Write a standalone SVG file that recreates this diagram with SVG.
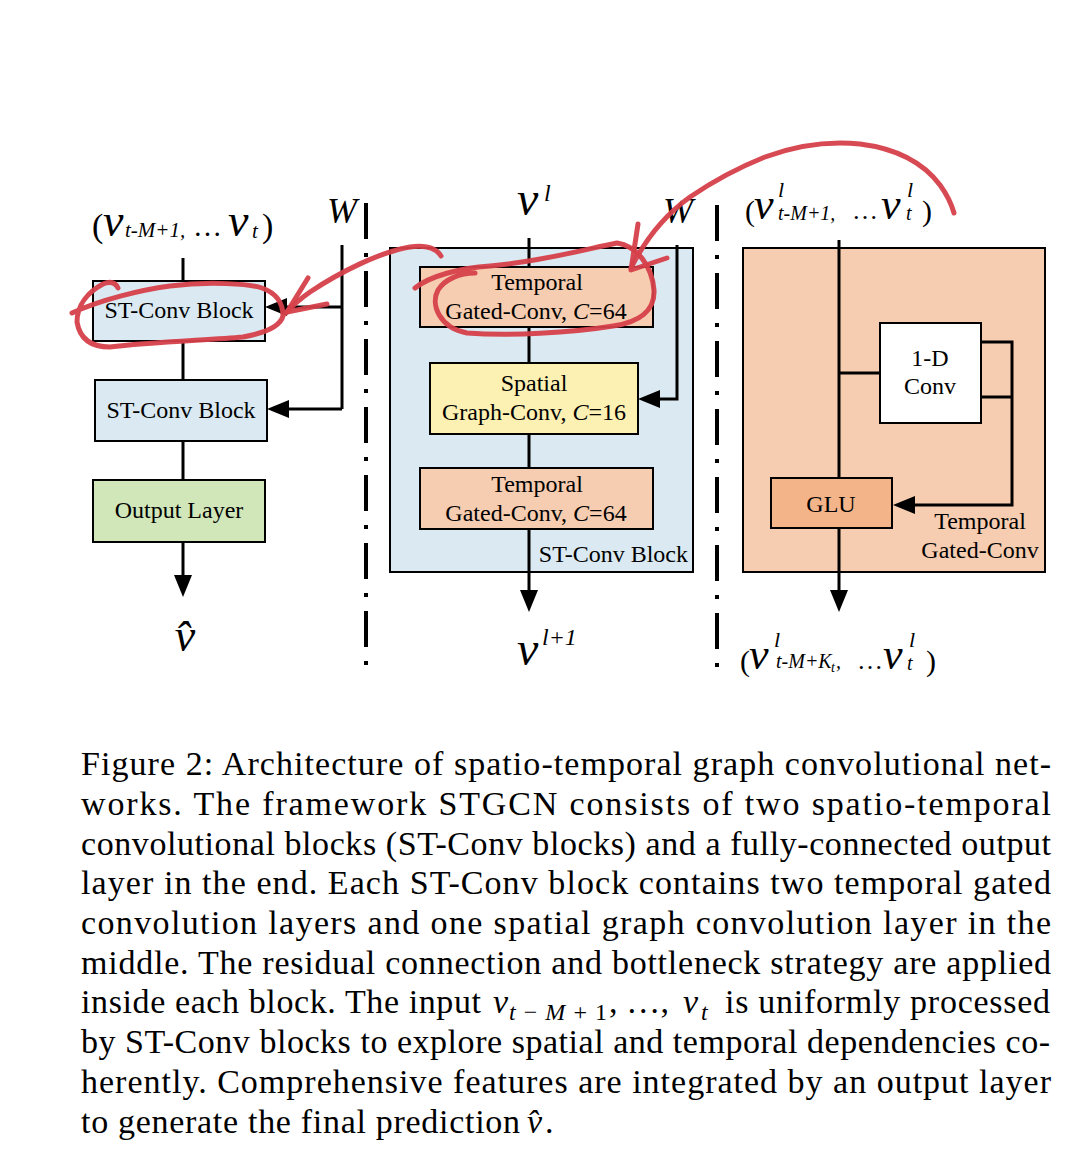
<svg xmlns="http://www.w3.org/2000/svg" width="1077" height="1161" viewBox="0 0 1077 1161">
<style>
.box{stroke:#000;stroke-width:2}
.lbl{font-family:"Liberation Serif","Times New Roman",serif;font-size:24px;fill:#000;text-anchor:middle}
.conn{stroke:#000;stroke-width:3;fill:none}
.sep{stroke:#000;stroke-width:4;stroke-dasharray:36 14 4 14;fill:none}
.m{font-family:"Liberation Serif","Times New Roman",serif;font-style:italic;fill:#000}
.u{font-family:"Liberation Serif","Times New Roman",serif;fill:#000}
.cap{font-family:"Liberation Serif","Times New Roman",serif;font-size:34px;fill:#000}
.red{stroke:#d6404a;stroke-width:5;fill:none;stroke-linecap:round;stroke-linejoin:round;opacity:0.95}
.blue{fill:#dbeaf2}.peach{fill:#f6cdb0}.yellow{fill:#fcf0b2}.green{fill:#d1e7b9}.glu{fill:#f3b48a}
</style>
<defs>
<marker id="ah" markerUnits="userSpaceOnUse" markerWidth="22" markerHeight="18" refX="12" refY="9" orient="auto" overflow="visible">
<path d="M0,0 L22,9 L0,18 z" fill="#000"/>
</marker>
</defs>
<rect width="1077" height="1161" fill="#fff"/>

<g id="separators">
<line class="sep" x1="366" y1="203" x2="366" y2="668"/>
<line class="sep" x1="717" y1="205" x2="717" y2="668"/>
</g>

<g id="st-conv-block-detail">
<rect class="box blue" x="390" y="248" width="303" height="324"/>
<text class="lbl" x="688" y="562" style="text-anchor:end">ST-Conv Block</text>
</g>
<g id="temporal-gated-conv-detail">
<rect class="box peach" x="743" y="248" width="302" height="324"/>
<text class="lbl" x="980" y="529">Temporal</text>
<text class="lbl" x="980" y="558">Gated-Conv</text>
</g>

<g id="connectors">
<path class="conn" d="M183,258 V281"/>
<path class="conn" d="M183,341 V380"/>
<path class="conn" d="M183,441 V480"/>
<path class="conn" d="M183,542 V587" marker-end="url(#ah)"/>
<path class="conn" d="M342,245 V409"/>
<path class="conn" d="M342,307 H275" marker-end="url(#ah)"/>
<path class="conn" d="M342,409 H277" marker-end="url(#ah)"/>
<path class="conn" d="M529,238 V267"/>
<path class="conn" d="M529,327 V363"/>
<path class="conn" d="M529,434 V468"/>
<path class="conn" d="M529,529 V602" marker-end="url(#ah)"/>
<path class="conn" d="M677,245 V399 H648" marker-end="url(#ah)"/>
<path class="conn" d="M839,240 V478"/>
<path class="conn" d="M839,373 H880"/>
<path class="conn" d="M981,342 H1012 V505 H903" marker-end="url(#ah)"/>
<path class="conn" d="M981,397 H1012"/>
<path class="conn" d="M839,528 V602" marker-end="url(#ah)"/>
</g>

<g id="st-conv-block-1">
<rect class="box blue" x="93" y="281" width="172" height="60"/>
<text class="lbl" x="179" y="318">ST-Conv Block</text>
</g>
<g id="st-conv-block-2">
<rect class="box blue" x="95" y="380" width="172" height="61"/>
<text class="lbl" x="181" y="418">ST-Conv Block</text>
</g>
<g id="output-layer">
<rect class="box green" x="93" y="480" width="172" height="62"/>
<text class="lbl" x="179" y="518">Output Layer</text>
</g>

<g id="temporal-1">
<rect class="box peach" x="420" y="267" width="233" height="60"/>
<text class="lbl" x="537" y="290">Temporal</text>
<text class="lbl" x="536" y="319">Gated-Conv, <tspan font-style="italic">C</tspan>=64</text>
</g>
<g id="spatial">
<rect class="box yellow" x="430" y="363" width="208" height="71"/>
<text class="lbl" x="534" y="391">Spatial</text>
<text class="lbl" x="534" y="420">Graph-Conv, <tspan font-style="italic">C</tspan>=16</text>
</g>
<g id="temporal-2">
<rect class="box peach" x="420" y="468" width="233" height="61"/>
<text class="lbl" x="537" y="492">Temporal</text>
<text class="lbl" x="536" y="521">Gated-Conv, <tspan font-style="italic">C</tspan>=64</text>
</g>

<g id="conv-1d">
<rect class="box" fill="#fff" x="880" y="323" width="101" height="100"/>
<text class="lbl" x="930" y="366">1-D</text>
<text class="lbl" x="930" y="394">Conv</text>
</g>
<g id="glu">
<rect class="box glu" x="771" y="478" width="121" height="50"/>
<text class="lbl" x="831" y="512">GLU</text>
</g>

<g id="label-input">
<text class="u" x="92" y="237" font-size="34">(</text>
<text class="m" x="103" y="236" font-size="46">v</text>
<text class="m" x="125" y="237" font-size="21">t-M+1,</text>
<text class="u" x="193" y="236" font-size="29">…</text>
<text class="m" x="228" y="236" font-size="46">v</text>
<text class="m" x="252" y="238" font-size="21">t</text>
<text class="u" x="262" y="237" font-size="34">)</text>
</g>
<g id="label-W-left"><text class="m" x="327" y="223" font-size="36">W</text></g>
<g id="label-W-right"><text class="m" x="663" y="223" font-size="36">W</text></g>
<g id="label-vhat">
<text class="m" x="185" y="651" font-size="46" text-anchor="middle">v&#x302;</text>
</g>
<g id="label-vl">
<text class="m" x="517" y="215" font-size="48">v</text>
<text class="m" x="544" y="201" font-size="24">l</text>
</g>
<g id="label-vl1">
<text class="m" x="517" y="665" font-size="48">v</text>
<text class="m" x="542" y="645" font-size="24">l+1</text>
</g>
<g id="label-right-in">
<text class="u" x="745" y="221" font-size="30">(</text>
<text class="m" x="754" y="219" font-size="44">v</text>
<text class="m" x="778" y="197" font-size="22">l</text>
<text class="m" x="778" y="220" font-size="20">t-M+1,</text>
<text class="u" x="852" y="219" font-size="26">…</text>
<text class="m" x="881" y="219" font-size="44">v</text>
<text class="m" x="907" y="197" font-size="22">l</text>
<text class="m" x="906" y="220" font-size="20">t</text>
<text class="u" x="922" y="221" font-size="30">)</text>
</g>
<g id="label-right-out">
<text class="u" x="740" y="671" font-size="30">(</text>
<text class="m" x="749" y="669" font-size="44">v</text>
<text class="m" x="774" y="647" font-size="22">l</text>
<text class="m" x="776" y="668" font-size="20">t-M+K</text>
<text class="m" x="831" y="672" font-size="14">t</text>
<text class="m" x="836" y="668" font-size="20">,</text>
<text class="u" x="857" y="669" font-size="26">…</text>
<text class="m" x="883" y="669" font-size="44">v</text>
<text class="m" x="909" y="647" font-size="22">l</text>
<text class="m" x="907" y="670" font-size="20">t</text>
<text class="u" x="926" y="671" font-size="30">)</text>
</g>

<g id="annotations">
<path class="red" d="M72,313 C100,300 140,290 170,286 C210,281 250,284 262,288 C276,293 283,303 283,316 C280,327 265,333 243,337 C210,340 150,342 110,347 C92,347 80,340 77,322 C77,305 88,292 103,284 C110,281 115,282 118,288"/>
<path class="red" d="M441,256 C436,248 425,245 410,247 C380,252 340,272 310,292 C300,299 292,306 286,313"/>
<path class="red" d="M308,278 L287,312 L327,304"/>
<path class="red" d="M415,288 C430,276 460,268 490,266 C540,262 590,248 617,243 C637,246 652,266 654,290 C655,310 640,322 613,326 C570,333 510,336 467,333 C440,328 430,305 438,290 C445,279 460,273 475,273"/>
<path class="red" d="M638,224 L631,270 L667,258"/>
<path class="red" d="M631,268 C645,240 665,215 690,197 C715,180 740,167 765,157 C800,144 830,141 860,144 C900,149 925,165 940,185 C948,196 952,206 954,213"/>
</g>

<g id="caption" class="cap">
<text x="81" y="775" textLength="970" lengthAdjust="spacing">Figure 2: Architecture of spatio-temporal graph convolutional net-</text>
<text x="81" y="815" textLength="970" lengthAdjust="spacing">works.  The framework STGCN consists of two spatio-temporal</text>
<text x="81" y="855" textLength="970" lengthAdjust="spacing">convolutional blocks (ST-Conv blocks) and a fully-connected output</text>
<text x="81" y="894" textLength="970" lengthAdjust="spacing">layer in the end. Each ST-Conv block contains two temporal gated</text>
<text x="81" y="934" textLength="970" lengthAdjust="spacing">convolution layers and one spatial graph convolution layer in the</text>
<text x="81" y="974" textLength="970" lengthAdjust="spacing">middle. The residual connection and bottleneck strategy are applied</text>
<text x="81" y="1013" textLength="400" lengthAdjust="spacing">inside each block. The input</text>
<text x="493" y="1013" font-style="italic">v</text>
<text x="509" y="1020" font-size="24" textLength="98" lengthAdjust="spacing"><tspan font-style="italic">t</tspan>−<tspan font-style="italic">M</tspan>+1</text>
<text x="609" y="1013" textLength="60" lengthAdjust="spacing">, …,</text>
<text x="683" y="1013" font-style="italic">v</text>
<text x="701" y="1020" font-size="24" font-style="italic">t</text>
<text x="725" y="1013" textLength="325" lengthAdjust="spacing">is uniformly processed</text>
<text x="81" y="1053" textLength="969" lengthAdjust="spacing">by ST-Conv blocks to explore spatial and temporal dependencies co-</text>
<text x="81" y="1093" textLength="970" lengthAdjust="spacing">herently. Comprehensive features are integrated by an output layer</text>
<text x="81" y="1133" textLength="439" lengthAdjust="spacing">to generate the final prediction</text>
<text x="527" y="1133" font-style="italic">v&#x302;</text>
<text x="545" y="1133">.</text>
</g>
</svg>
